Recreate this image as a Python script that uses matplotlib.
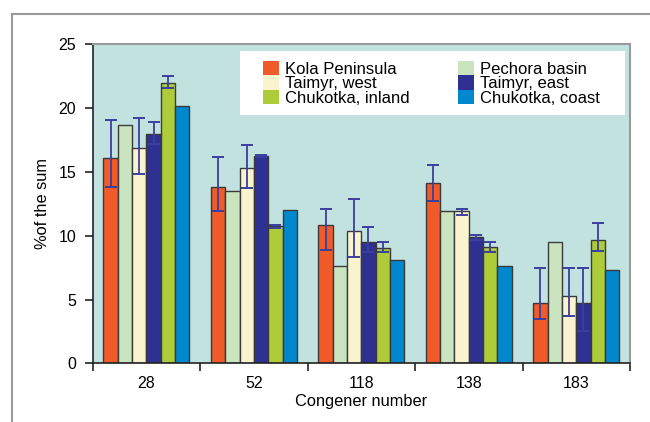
import matplotlib
matplotlib.use("Agg")
import matplotlib.pyplot as plt
import numpy as np
from matplotlib.lines import Line2D
from matplotlib.patches import Rectangle

plt.rcParams["font.family"] = ["Liberation Sans", "DejaVu Sans"]

congeners = ["28", "52", "118", "138", "183"]
regions = ["Kola Peninsula", "Pechora basin", "Taimyr, west",
           "Taimyr, east", "Chukotka, inland", "Chukotka, coast"]
colors = ["#F15A29", "#C9E4BE", "#FAF3D0", "#2E3192", "#AECB3A", "#0088CF"]

# percent of the sum, one list per region (order of congeners above)
kola = [16.1, 13.8, 10.8, 14.1, 4.7]
pechora = [18.7, 13.5, 7.6, 11.9, 9.5]
taimyr_w = [16.9, 15.3, 10.4, 11.9, 5.3]
taimyr_e = [18.0, 16.25, 9.5, 9.9, 4.7]
chuk_in = [22.0, 10.75, 9.05, 9.1, 9.7]
chuk_co = [20.15, 12.0, 8.1, 7.65, 7.3]

# error bar ends (low, high); None = no error bar
kola_err = [(13.8, 19.05), (11.9, 16.2), (8.85, 12.1), (12.7, 15.55), (3.5, 7.45)]
taimyr_w_err = [(14.8, 19.25), (13.7, 17.1), (8.3, 12.9), (11.65, 12.1), (3.7, 7.45)]
taimyr_e_err = [(17.2, 18.95), (16.2, 16.3), (8.7, 10.65), (9.7, 10.08), (2.5, 7.45)]
chuk_in_err = [(21.55, 22.55), (10.63, 10.85), (8.72, 9.5), (8.7, 9.48), (8.83, 10.97)]

values = [kola, pechora, taimyr_w, taimyr_e, chuk_in, chuk_co]
errors = [kola_err, None, taimyr_w_err, taimyr_e_err, chuk_in_err, None]

fig = plt.figure(figsize=(6.5, 4.22), dpi=100)
ax = fig.add_axes([0.1426, 0.1391, 0.8266, 0.7559])
ax.set_facecolor("#C2E2E0")

x = np.arange(len(congeners)) + 0.5
width = 0.8 / len(regions)
handles = []
for i, (vals, err) in enumerate(zip(values, errors)):
    pos = x - 0.4 + width * (i + 0.5)
    b = ax.bar(pos, vals, width, color=colors[i], edgecolor="#3a3a3a",
               linewidth=1.0, zorder=2, label=regions[i])
    handles.append(b)
    if err is not None:
        v = np.array(vals)
        lo = np.array([e[0] for e in err])
        hi = np.array([e[1] for e in err])
        ax.errorbar(pos, v, yerr=[v - lo, hi - v], fmt="none",
                    ecolor="#3B3F9E", elinewidth=1.3, capsize=4.5,
                    capthick=1.4, zorder=3)

ax.set_xlim(0, len(congeners))
ax.set_ylim(0, 25)
ax.set_xticks(np.arange(len(congeners) + 1))
ax.set_xticklabels([])
ax.set_xticks(x, minor=True)
ax.set_xticklabels(congeners, minor=True)
ax.tick_params(axis="x", which="minor", length=0, pad=9, labelsize=11.5)
ax.tick_params(axis="x", which="major", length=6, width=1.2, color="#222222")
ax.set_yticks(range(0, 26, 5))
ax.tick_params(axis="y", length=6, width=1.2, color="#222222",
               labelsize=11.5, pad=6)

for s in ["left", "bottom"]:
    ax.spines[s].set_color("#222222")
    ax.spines[s].set_linewidth(1.2)
for s in ["top", "right"]:
    ax.spines[s].set_color("#999999")
    ax.spines[s].set_linewidth(1.5)

ax.set_xlabel("Congener number", fontsize=11.8, labelpad=2)
ax.set_ylabel("%of the sum", fontsize=11.8, labelpad=6)

# white legend box
ax.add_patch(Rectangle((0.274, 0.778), 0.717, 0.202, transform=ax.transAxes,
                       facecolor="white", edgecolor="none", zorder=4))
order = [0, 2, 4, 1, 3, 5]
leg = ax.legend([handles[k] for k in order], [regions[k] for k in order],
                ncol=2, loc="upper left", bbox_to_anchor=(0.302, 0.975),
                frameon=False, fontsize=12, handlelength=0.95,
                handleheight=0.95, handletextpad=0.35, labelspacing=-0.08,
                columnspacing=2.9, borderpad=0)
leg.set_zorder(5)
for h in leg.legend_handles:
    h.set_edgecolor("none")

# outer frame lines
fig.add_artist(Line2D([0.018, 1.0], [0.967, 0.967], color="#999999", lw=1.5))
fig.add_artist(Line2D([0.018, 0.018], [0.0, 0.967], color="#999999", lw=1.5))

fig.savefig("out.png", dpi=100)
